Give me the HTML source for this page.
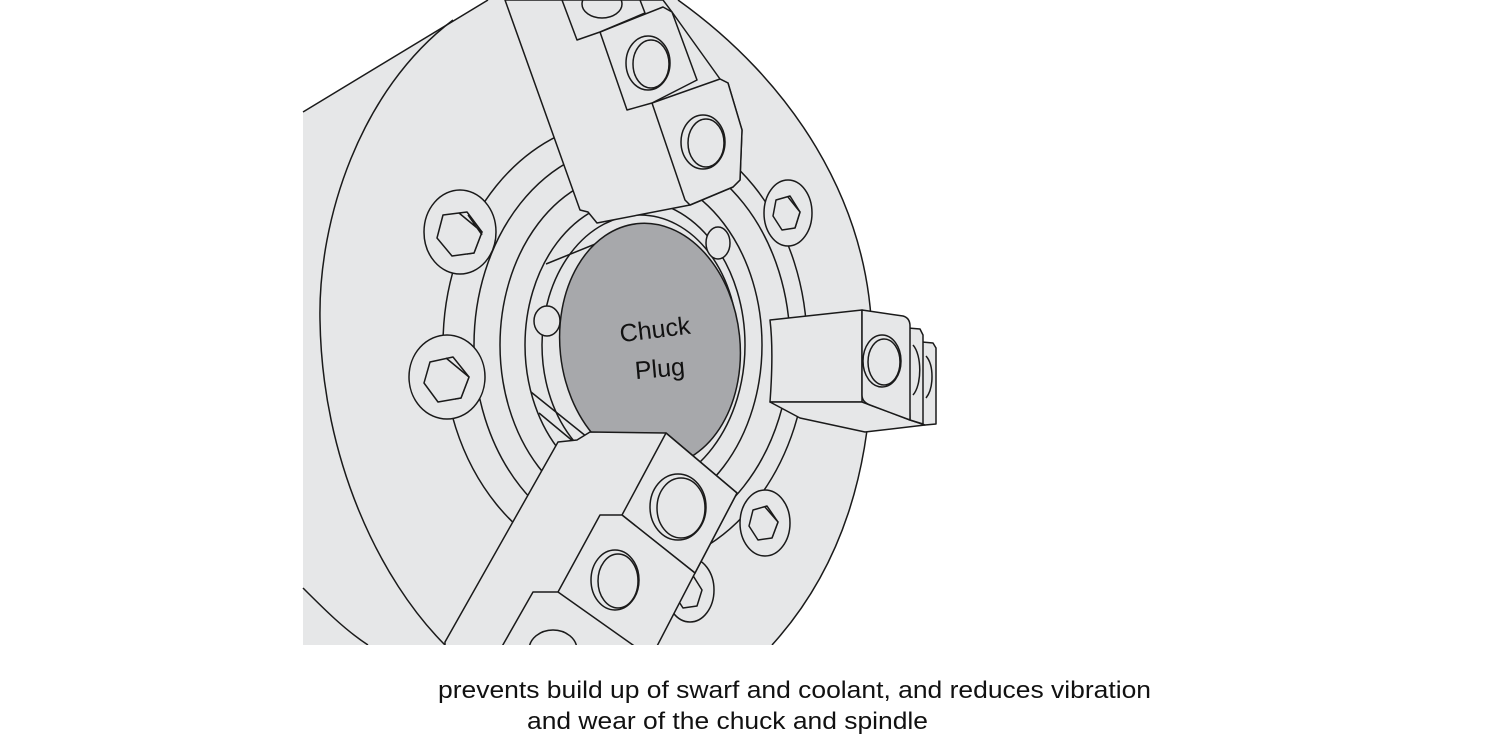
<!DOCTYPE html>
<html><head><meta charset="utf-8"><style>
html,body{margin:0;padding:0;background:#fff;}
svg{display:block;}
</style></head><body>
<svg width="1500" height="750" viewBox="0 0 1500 750" xmlns="http://www.w3.org/2000/svg">
<defs>
<clipPath id="c"><path d="M303,112 L488,0 L678,0 C790,80 870,200 872,340 C874,470 840,570 772,645 L303,645 Z"/></clipPath>
<clipPath id="all"><rect x="0" y="0" width="1500" height="645"/></clipPath>
</defs>
<g clip-path="url(#all)">
<g fill="#e6e7e8" stroke="#1a1a1a" stroke-width="1.5" stroke-linejoin="round">
<path d="M303,112 L488,0 L678,0 C790,80 870,200 872,340 C874,470 840,570 772,645 L303,645 Z" stroke="none"/>
<path d="M303,112 L488,0" fill="none"/>
<path d="M678,0 C790,80 870,200 872,340 C874,470 840,570 772,645" fill="none"/>
<path d="M453,20 C360,90 318,220 320,320 C322,460 380,580 445,645" fill="none"/>
<path d="M303,588 C325,610 345,630 368,645" fill="none"/>
<g clip-path="url(#c)" fill="none">
<ellipse cx="625" cy="345" rx="182" ry="225"/>
<ellipse cx="632" cy="345" rx="158" ry="200"/>
<ellipse cx="631" cy="345" rx="131" ry="172"/>
<ellipse cx="635" cy="345" rx="110" ry="145"/>
<ellipse cx="640" cy="345" rx="98" ry="130"/>
</g>
<g>
<ellipse cx="460" cy="232" rx="36" ry="42"/>
<path d="M443,215 L467,212 L482,232 L474,253 L452,256 L437,238 Z"/>
<path d="M459,213 L482,232 L474,253 L467,254 M468,215 L482,235"/>
<ellipse cx="447" cy="377" rx="38" ry="42"/>
<path d="M430,362 L453,357 L469,377 L461,398 L438,402 L424,383 Z"/>
<path d="M446,358 L469,377 L461,398 L455,399"/>
<ellipse cx="788" cy="213" rx="24" ry="33"/>
<path d="M776,200 L790,196 L800,212 L795,228 L782,230 L773,216 Z"/>
<path d="M788,197 L800,212 L795,228"/>
<ellipse cx="765" cy="523" rx="25" ry="33"/>
<path d="M753,510 L767,506 L778,522 L772,538 L758,540 L749,526 Z"/>
<path d="M765,507 L778,522 L772,538"/>
<ellipse cx="690" cy="590" rx="24" ry="32"/>
<path d="M678,578 L692,574 L702,590 L697,606 L683,608 L674,594 Z"/>
<ellipse cx="718" cy="243" rx="12" ry="16"/>
<ellipse cx="547" cy="321" rx="13" ry="15"/>
</g>
<path d="M546,264 L615,236" fill="none"/>
<path d="M531,392 L592,441 M539,413 L580,447" fill="none"/>
<ellipse cx="650" cy="345" rx="90" ry="122" transform="rotate(-6 650 345)" fill="#a7a8ab"/>
<path d="M505,0 L580,210 L588,212 L597,223 L690,205 L733,187 L740,180 L742,130 L728,83 L720,79 L672,12 L663,0 Z"/>
<path d="M652,103 L720,79 L728,83 L742,130 L740,180 L733,187 L690,205 L685,200 Z"/>
<ellipse cx="703" cy="142" rx="22" ry="27"/><ellipse cx="706" cy="143" rx="18" ry="24" fill="none"/>
<path d="M600,32 L663,7 L672,12 L697,80 L652,103 L627,110 Z"/>
<ellipse cx="648" cy="63" rx="22" ry="27"/><ellipse cx="651" cy="64" rx="18" ry="24" fill="none"/>
<path d="M562,0 L577,40 L600,32 L645,13 L640,0 Z"/>
<ellipse cx="602" cy="4" rx="20" ry="14" fill="none"/>
<path d="M770,320 L862,310 L862,402 L770,402 C772,375 773,345 770,320 Z"/>
<path d="M770,402 L800,418 L865,432 L925,425 L910,420 L862,402 Z"/>
<path d="M922,342 L933,343 L936,348 L936,424 L925,425 L922,424 Z"/>
<path d="M908,328 L920,329 L923,335 L923,424 L910,420 Z"/>
<path d="M862,310 L903,316 Q910,318 910,326 L910,420 L870,405 Q862,402 862,395 Z"/>
<ellipse cx="882" cy="361" rx="19" ry="26"/><ellipse cx="884" cy="362" rx="16" ry="23" fill="none"/>
<path d="M913,345 C922,355 922,385 913,395 M926,356 C934,365 934,388 926,398" fill="none"/>
<path d="M558,442 L577,440 L590,432 L666,433 L737,493 L695,573 L633,643 L633,650 L445,650 L445,642 Z"/>
<path d="M666,433 L737,493 L695,573 L622,515 Z"/>
<ellipse cx="678" cy="507" rx="28" ry="33"/><ellipse cx="681" cy="508" rx="24" ry="30" fill="none"/>
<path d="M600,515 L622,515 L695,573 L655,650 L540,650 L558,592 Z"/>
<ellipse cx="615" cy="580" rx="24" ry="30"/><ellipse cx="618" cy="581" rx="20" ry="27" fill="none"/>
<path d="M533,592 L558,592 L640,650 L500,650 Z"/>
<ellipse cx="553" cy="650" rx="24" ry="20" fill="none"/>
</g>
</g>
<g font-family="Liberation Sans, sans-serif" fill="#111">
<text x="655" y="338" font-size="25" text-anchor="middle" transform="rotate(-7 655 330)">Chuck</text>
<text x="660" y="377" font-size="25" text-anchor="middle" transform="rotate(-5 660 370)">Plug</text>
<text x="438" y="698" font-size="24" textLength="713" lengthAdjust="spacingAndGlyphs">prevents build up of swarf and coolant, and reduces vibration</text>
<text x="527" y="729" font-size="24" textLength="401" lengthAdjust="spacingAndGlyphs">and wear of the chuck and spindle</text>
</g>
</svg>
</body></html>
